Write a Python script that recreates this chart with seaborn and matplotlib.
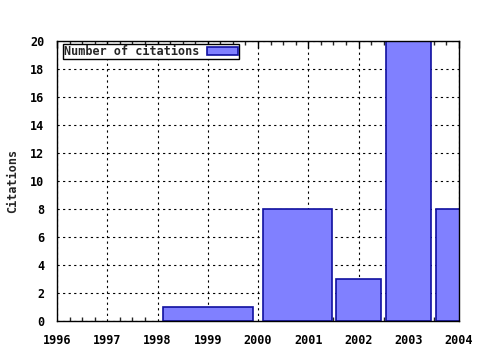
import matplotlib
matplotlib.use("Agg")
import matplotlib.pyplot as plt
import seaborn as sns
import numpy as np
from matplotlib.ticker import MultipleLocator

# data
years = [1999.0, 2000.78, 2002.0, 2003.0, 2004.0]
widths = [1.79, 1.37, 0.9, 0.9, 0.9]
citations = [1, 8, 3, 20, 8]
xticks = [1996, 1997, 1998, 1999, 2000, 2001, 2002, 2003, 2004]
yticks = [0, 2, 4, 6, 8, 10, 12, 14, 16, 18, 20]

sns.set_style("white")
plt.rcParams['font.family'] = ['DejaVu Sans Mono', 'DejaVu Sans']
plt.rcParams['font.weight'] = 'bold'

fig = plt.figure(figsize=(4.8, 3.5), dpi=100)
ax = fig.add_axes([57/480, 29/350, 402/480, 280/350])

ax.bar(years, citations, width=widths, color='#8080ff', edgecolor='#1010a0',
       linewidth=1.2, label='Number of citations', zorder=3)

ax.set_xlim(1996, 2004)
ax.set_ylim(0, 20)
ax.set_xticks(xticks)
ax.set_xticklabels([str(t) for t in xticks])
ax.set_yticks(yticks)
ax.set_yticklabels([str(t) for t in yticks])
ax.xaxis.set_minor_locator(MultipleLocator(0.25))

ax.grid(True, which='major', color='black', linestyle=(0, (2, 3)), linewidth=0.8, zorder=1)
ax.tick_params(axis='both', which='major', direction='in', length=5, width=1,
               top=True, right=False, labelsize=8.5, colors='black')
ax.tick_params(axis='x', which='major', pad=9)
ax.tick_params(axis='y', which='major', pad=9)
ax.tick_params(axis='x', which='minor', direction='in', length=3, width=1,
               top=True, bottom=True)
for lab in ax.get_xticklabels() + ax.get_yticklabels():
    lab.set_fontweight('bold')
for s in ax.spines.values():
    s.set_color('black')
    s.set_linewidth(1)
    s.set_zorder(4)

ax.set_ylabel('Citations', fontsize=8.5, fontweight='bold', labelpad=8)

leg = ax.legend(loc='upper left', bbox_to_anchor=(6/402, 1 - 3/280), markerfirst=False,
                frameon=True, fancybox=False, borderpad=0.1, handlelength=2.6,
                handleheight=0.55, handletextpad=0.65, borderaxespad=0.0,
                prop={'weight': 'bold', 'size': 8.5})
leg.get_frame().set_edgecolor('black')
leg.get_frame().set_linewidth(1)
leg.get_frame().set_alpha(1)
leg.set_zorder(5)

fig.savefig('out.png', dpi=100)
